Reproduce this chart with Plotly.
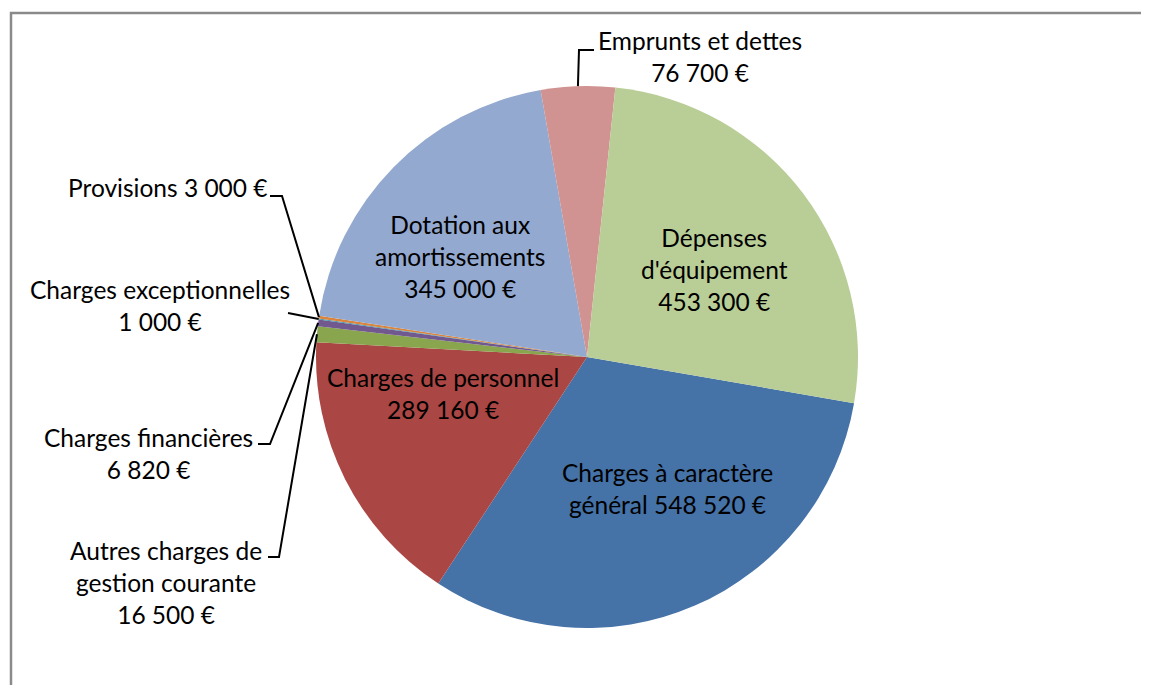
import math
import plotly.graph_objects as go

W, H = 1149, 693                   # browser window
OFF = 8                            # page body margin: figure is drawn 8px from the window corner
FW, FH = W - 2 * OFF, H - 2 * OFF  # figure size so the page does not overflow (no scrollbars)

# ---------------- data ----------------
categories = [
    "Charges à caractère général",
    "Charges de personnel",
    "Autres charges de gestion courante",
    "Charges financières",
    "Charges exceptionnelles",
    "Provisions",
    "Dotation aux amortissements",
    "Emprunts et dettes",
    "Dépenses d'équipement",
]
values = [548520, 289160, 16500, 6820, 1000, 3000, 345000, 76700, 453300]

# label text templates ({v} = formatted amount)
label_templates = [
    "Charges à caractère<br>général {v}",
    "Charges de personnel<br>{v}",
    "Autres charges de<br>gestion courante<br>{v}",
    "Charges financières<br>{v}",
    "Charges exceptionnelles<br>{v}",
    "Provisions {v}",
    "Dotation aux<br>amortissements<br>{v}",
    "Emprunts et dettes<br>{v}",
    "Dépenses<br>d'équipement<br>{v}",
]

# ---------------- styles / layout ----------------
colors = ["#4572A7", "#AA4643", "#89A54E", "#71588F", "#4198AF",
          "#DB843D", "#93A9CF", "#D19392", "#B9CD96"]
ROTATION = 99.8            # first slice start, degrees clockwise from 12 o'clock
CX, CY, R = 587, 357, 271  # pie centre / radius in window pixels
FONT = dict(family="Lato, 'Open Sans', sans-serif", size=24.5, color="#000000")

# label block centres (window pixels)
label_pos = [
    (667, 488), (443, 393), (166, 582), (148, 453), (160, 306),
    (168, 188), (460, 257), (700, 57), (714, 269),
]
# leader lines: label-side points (window pixels) and where on the slice they land
leader = {
    2: ([(268, 557), (279, 557)], 0.5),
    3: ([(258, 444), (270, 444)], 0.5),
    4: ([(288, 313)], 0.5),
    5: ([(270, 196), (282, 196)], 0.5),
    7: ([(594, 50), (579, 50)], 0.5),
}


def fmt(v):
    return f"{v:,}".replace(",", "\u00a0") + "\u00a0€"


def px2paper(x, y):
    return (x - OFF) / FW, 1 - (y - OFF) / FH


def edge_point(angle_deg):
    a = math.radians(angle_deg)
    return CX + R * math.sin(a), CY - R * math.cos(a)


total = sum(values)
starts, spans = [], []
acc = ROTATION
for v in values:
    span = 360 * v / total
    starts.append(acc)
    spans.append(span)
    acc += span

dx0, dy0 = px2paper(CX - R, CY + R)
dx1, dy1 = px2paper(CX + R, CY - R)

fig = go.Figure(
    go.Pie(
        labels=categories,
        values=values,
        sort=False,
        direction="clockwise",
        rotation=ROTATION,
        textinfo="none",
        hoverinfo="label+value+percent",
        marker=dict(colors=colors, line=dict(width=0)),
        showlegend=False,
        domain=dict(x=[dx0, dx1], y=[dy0, dy1]),
    )
)

annotations = []
for i, tpl in enumerate(label_templates):
    x, y = px2paper(*label_pos[i])
    annotations.append(dict(
        x=x, y=y, xref="paper", yref="paper",
        text=tpl.format(v=fmt(values[i])),
        showarrow=False, xanchor="center", yanchor="middle",
        align="center", font=FONT,
    ))

shapes = []
for i, (pts, frac) in leader.items():
    ex, ey = edge_point(starts[i] + frac * spans[i])
    allpts = pts + [(ex, ey)]
    path = ""
    for k, (px, py) in enumerate(allpts):
        X, Y = px2paper(px, py)
        path += ("M" if k == 0 else " L") + f"{X:.5f},{Y:.5f}"
    shapes.append(dict(type="path", path=path, xref="paper", yref="paper",
                       line=dict(color="#000000", width=2)))

# chart-area border: only left and top edges are visible (rest lies off-screen)
bx0, by0 = px2paper(11, 13)
shapes.append(dict(type="path", xref="paper", yref="paper",
                   path=f"M{bx0:.5f},-0.05 L{bx0:.5f},{by0:.5f} L1.05,{by0:.5f}",
                   line=dict(color="#8A8A8A", width=2.5), layer="below"))

fig.update_layout(
    width=FW, height=FH,
    margin=dict(l=0, r=0, t=0, b=0),
    paper_bgcolor="white", plot_bgcolor="white",
    annotations=annotations, shapes=shapes,
    font=FONT,
)

fig.write_html("out.html")
